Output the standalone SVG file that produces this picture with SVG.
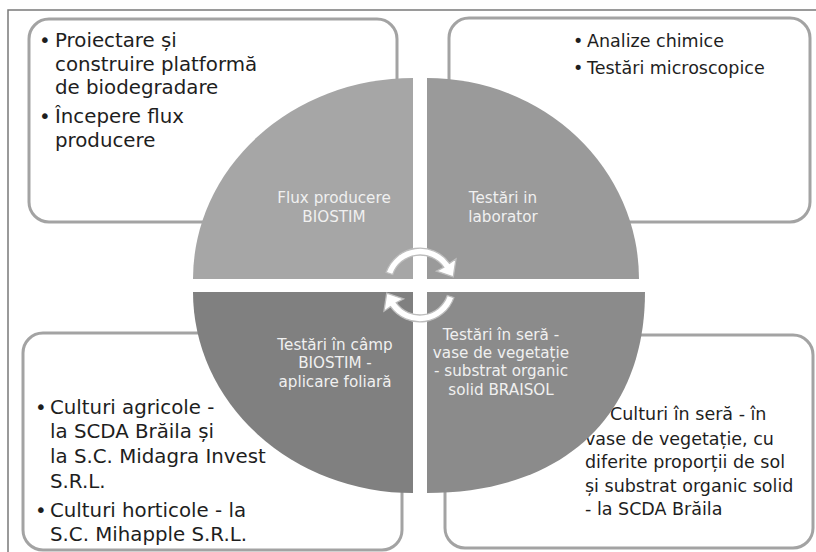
<svg xmlns="http://www.w3.org/2000/svg" width="816" height="552" viewBox="0 0 816 552">
<style>
.box{fill:#ffffff;stroke:#a3a3a3;stroke-width:3}
.bt{font-family:"DejaVu Sans","Liberation Sans",sans-serif;fill:#1e1e1e}
.big{font-size:19.8px}
.sm{font-size:17.5px}
.ql{font-family:"DejaVu Sans","Liberation Sans",sans-serif;font-size:15.2px;fill:#f0f0f0;text-anchor:middle}
.arr{fill:#ffffff;stroke:#bdbdbd;stroke-width:1.3}
</style>
<rect x="0" y="0" width="816" height="552" fill="#ffffff"/>
<rect x="8" y="10" width="820" height="560" fill="none" stroke="#7a7a7a" stroke-width="1.5"/>

<g id="box-top-left">
<rect class="box" x="29" y="19" width="368" height="203" rx="20"/>
<text class="bt big" x="39" y="47">•</text>
<text class="bt big" x="55" y="47">Proiectare  și</text>
<text class="bt big" x="55" y="71">construire platformă</text>
<text class="bt big" x="55" y="94">de biodegradare</text>
<text class="bt big" x="39" y="123">•</text>
<text class="bt big" x="55" y="123">Începere flux</text>
<text class="bt big" x="55" y="147">producere</text>
</g>

<g id="box-top-right">
<rect class="box" x="449" y="18" width="361" height="204" rx="20"/>
<text class="bt sm" x="573" y="47">•</text>
<text class="bt sm" x="587" y="47">Analize chimice</text>
<text class="bt sm" x="573" y="74">•</text>
<text class="bt sm" x="587" y="74">Testări microscopice</text>
</g>

<g id="box-bottom-left">
<rect class="box" x="23" y="333" width="379" height="217" rx="20"/>
<text class="bt big" x="35" y="414">•</text>
<text class="bt big" x="50" y="414">Culturi agricole -</text>
<text class="bt big" x="50" y="438">la SCDA Brăila și</text>
<text class="bt big" x="50" y="463">la S.C. Midagra Invest</text>
<text class="bt big" x="50" y="488">S.R.L.</text>
<text class="bt big" x="35" y="517">•</text>
<text class="bt big" x="50" y="517">Culturi horticole - la</text>
<text class="bt big" x="50" y="541">S.C. Mihapple S.R.L.</text>
</g>

<g id="box-bottom-right">
<rect class="box" x="445" y="335" width="368" height="213" rx="20"/>
<text class="bt sm" x="610" y="420">Culturi în seră - în</text>
<text class="bt sm" x="585" y="445">vase de vegetație, cu</text>
<text class="bt sm" x="585" y="468">diferite proporții de sol</text>
<text class="bt sm" x="585" y="492">și substrat organic solid</text>
<text class="bt sm" x="585" y="515">- la SCDA Brăila</text>
</g>

<g id="quadrant-flux">
<path d="M413,279 L193,279 A220,201 0 0 1 413,78 Z" fill="#a6a6a6"/>
<text class="ql" x="334" y="203">Flux producere</text>
<text class="ql" x="334" y="222">BIOSTIM</text>
</g>
<g id="quadrant-laborator">
<path d="M427,279 L427,78 A212,201 0 0 1 639,279 Z" fill="#9a9a9a"/>
<text class="ql" x="503" y="203">Testări in</text>
<text class="ql" x="503" y="222">laborator</text>
</g>
<g id="quadrant-camp">
<path d="M413,292 L413,493 A220,201 0 0 1 193,292 Z" fill="#808080"/>
<text class="ql" x="335" y="350">Testări în câmp</text>
<text class="ql" x="335" y="368">BIOSTIM -</text>
<text class="ql" x="335" y="387">aplicare foliară</text>
</g>
<g id="quadrant-sera">
<path d="M427,292 L645,292 C645,417 562,493 427,493 Z" fill="#8b8b8b"/>
<text class="ql" x="501" y="340">Testări în seră -</text>
<text class="ql" x="501" y="358">vase de vegetație</text>
<text class="ql" x="501" y="376">- substrat organic</text>
<text class="ql" x="501" y="395">solid BRAISOL</text>
</g>

<g id="connectors">
<path id="arrow-top" class="arr" d="M386.1,272.4 A36,36 0 0 1 449.5,263.3 L456,258.8 L453.3,276.9 L436.4,271.1 L443.8,267.3 A29,29 0 0 0 392.7,274.5 Z"/>
<use href="#arrow-top" transform="rotate(180 420 285)"/>
</g>
</svg>
